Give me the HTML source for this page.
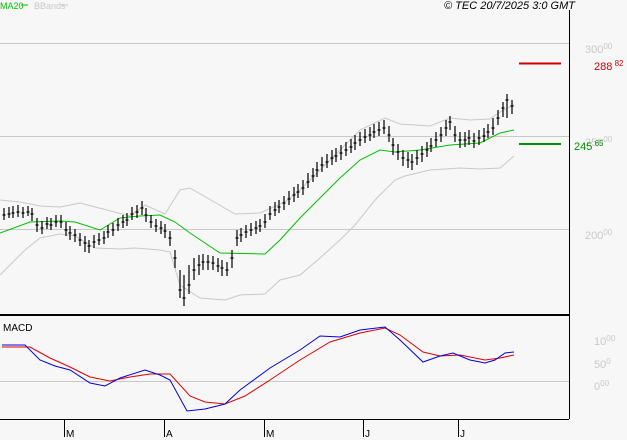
<!DOCTYPE html>
<html><head><meta charset="utf-8"><style>
html,body{margin:0;padding:0;background:#f7f7f7;}
svg{display:block;font-family:"Liberation Sans",sans-serif;}
</style></head><body>
<svg width="627" height="440" viewBox="0 0 627 440" xmlns="http://www.w3.org/2000/svg">
<rect width="627" height="440" fill="#f7f7f7"/>
<text x="0" y="9" font-size="9" fill="#00c000">MA20</text>
<line x1="21" y1="5" x2="28" y2="5" stroke="#00c000"/>
<text x="34" y="9" font-size="9" fill="#c8c8c8">BBands</text>
<line x1="61" y1="5" x2="68" y2="5" stroke="#c8c8c8"/>
<text x="575" y="9" font-size="11" font-style="italic" text-anchor="end" fill="#000">© TEC 20/7/2025 3:0 GMT</text>
<line x1="0" y1="43.5" x2="569" y2="43.5" stroke="#c8c8c8"/>
<line x1="0" y1="136.5" x2="569" y2="136.5" stroke="#c8c8c8"/>
<line x1="0" y1="229.5" x2="569" y2="229.5" stroke="#c8c8c8"/>
<line x1="0" y1="381.5" x2="569" y2="381.5" stroke="#c8c8c8"/>
<line x1="569.5" y1="10" x2="569.5" y2="419" stroke="#000"/>
<line x1="0" y1="315" x2="569" y2="315" stroke="#000" stroke-width="2"/>
<line x1="0" y1="419.5" x2="569" y2="419.5" stroke="#000"/>
<g font-size="11" fill="#c8c8c8">
<text x="585" y="53">300<tspan font-size="8" dy="-4">00</tspan></text>
<text x="585" y="146">250<tspan font-size="8" dy="-4">00</tspan></text>
<text x="585" y="239">200<tspan font-size="8" dy="-4">00</tspan></text>
<text x="594" y="345">10<tspan font-size="8" dy="-4">00</tspan></text>
<text x="594" y="368">50<tspan font-size="8" dy="-4">0</tspan></text>
<text x="594" y="390">0<tspan font-size="8" dy="-4">00</tspan></text>
</g>
<line x1="519" y1="63.5" x2="561" y2="63.5" stroke="#d00000" stroke-width="2"/>
<text x="594" y="70" font-size="11" fill="#d00000">288<tspan font-size="8" dy="-4"> 82</tspan></text>
<line x1="519" y1="144" x2="561" y2="144" stroke="#009000" stroke-width="2"/>
<text x="574" y="150" font-size="11" fill="#009000">245<tspan font-size="8" dy="-4"> 65</tspan></text>
<text x="3" y="331" font-size="10" fill="#000">MACD</text>
<g stroke="#000">
<line x1="64.5" y1="419" x2="64.5" y2="437"/><line x1="164.5" y1="419" x2="164.5" y2="437"/>
<line x1="264.5" y1="419" x2="264.5" y2="437"/><line x1="363.5" y1="419" x2="363.5" y2="437"/>
<line x1="458.5" y1="419" x2="458.5" y2="437"/>
</g>
<g font-size="10" fill="#000">
<text x="66" y="437">M</text><text x="166" y="437">A</text><text x="266" y="437">M</text><text x="365" y="437">J</text><text x="460" y="437">J</text>
</g>
<g fill="none" stroke-width="1">
<polyline stroke="#c8c8c8" points="0,200 20,202 40,206 60,207 80,203 95,207 130,216 145,205 165,214 180,190 190,188 235,214 260,213 285,202 300,190 330,160 360,130 385,118 400,124 430,126 450,118 470,120 490,119 500,112 514,105"/>
<polyline stroke="#c8c8c8" points="0,275 25,250 40,238 60,234 75,236 95,248 120,249 135,248 160,250 170,252 180,285 200,298 225,300 240,295 265,294 280,280 300,275 320,258 340,240 355,225 375,200 395,180 405,176 430,170 460,168 480,169 500,168 514,156"/>
<polyline stroke="#00c000" points="0,233 30,222 60,221 75,222 100,230 120,218 140,216 160,215 175,222 190,233 220,253 265,254 280,240 300,218 320,198 340,178 360,160 380,150 395,152 420,150 450,145 480,143 500,133 514,130"/>
<polyline stroke="#e00000" points="2,347 30,347 50,358 70,367 90,377 110,381 130,377 150,374 170,374 190,396 205,402 225,404 245,396 270,380 300,360 330,342 360,333 385,328 400,335 423,352 440,356 460,355 485,360 500,358 514,355"/>
<polyline stroke="#0000e0" points="2,345 25,345 40,360 55,366 70,370 90,383 105,386 120,378 145,370 160,375 170,380 187,411 205,409 225,404 240,390 270,368 300,350 320,336 340,337 360,330 385,327 400,340 423,362 440,356 453,353 470,360 485,363 495,360 505,353 514,352"/>
</g>
<g transform="translate(0,0)">
<path stroke="#000" stroke-width="1.2" fill="none" transform="translate(0.5,0)" d="
M3.5,208V220M2,215H5 M8.5,207V218M7,214H10 M12.5,206V218M11,213H14 M17.5,205V217M16,212H19 M22.5,207V218M21,213H24 M27.5,206V216M26,212H29 M31.5,208V221M30,214H33
M36.5,218V232M35,225H38 M41.5,221V234M40,228H43 M46.5,217V229M45,224H48 M50.5,218V230M49,225H52 M55.5,215V227M54,222H57 M60.5,215V228M59,222H62 M65.5,222V236M64,230H67
M69.5,226V240M68,233H71 M74.5,229V242M73,235H76 M79.5,233V246M78,240H81 M84.5,236V252M83,243H86 M88.5,240V253M87,246H90 M93.5,235V248M92,242H95 M98.5,233V245M97,240H100
M103.5,231V244M102,238H105 M107.5,225V238M106,232H109 M112.5,223V236M111,230H114 M117.5,218V231M116,225H119 M122.5,215V228M121,222H124 M126.5,213V226M125,220H128 M131.5,207V220M130,214H133
M136.5,205V218M135,212H138 M141.5,201V215M140,208H143 M145.5,208V222M144,215H147 M150.5,215V228M149,222H152 M155.5,219V232M154,226H157 M160.5,221V234M159,228H162 M164.5,224V238M163,231H166
M169.5,231V246M168,238H171 M174.5,250V268M173,258H176 M179.5,270V298M178,290H181 M183.5,275V306M182,298H185 M188.5,265V294M187,285H190 M193.5,258V280M192,270H195 M198.5,255V275M197,265H200
M202.5,254V270M201,262H204 M207.5,255V270M206,262H209 M212.5,256V270M211,263H214 M217.5,258V272M216,266H219 M221.5,260V276M220,268H223 M226.5,262V276M225,270H228 M231.5,250V268M230,258H233
M236.5,230V246M235,238H238 M240.5,228V242M239,235H242 M245.5,225V238M244,232H247 M250.5,223V236M249,230H252 M255.5,221V234M254,228H257 M259.5,219V232M258,226H261 M264.5,214V228M263,222H266
M269.5,206V220M268,214H271 M274.5,202V216M273,210H276 M278.5,200V213M277,207H280 M283.5,196V210M282,203H285 M288.5,191V205M287,199H290 M293.5,187V202M292,195H295 M297.5,184V198M296,192H299
M302.5,180V195M301,188H304 M307.5,173V188M306,182H309 M312.5,168V182M311,176H314 M316.5,162V177M315,170H318 M321.5,157V172M320,165H323 M326.5,154V168M325,162H328 M331.5,150V165M330,158H333
M335.5,148V162M334,156H337 M340.5,145V160M339,153H342 M345.5,142V156M344,150H347 M350.5,139V153M349,147H352 M354.5,135V150M353,143H356 M359.5,132V146M358,140H361 M364.5,129V143M363,137H366
M369.5,127V141M368,135H371 M373.5,124V138M372,132H375 M378.5,122V136M377,130H380 M383.5,120V134M382,128H385 M388.5,126V142M387,135H390 M392.5,138V155M391,145H394 M397.5,144V160M396,152H399
M402.5,150V166M401,158H404 M407.5,152V168M406,160H409 M411.5,154V170M410,162H413 M416.5,150V165M415,158H418 M421.5,146V162M420,154H423 M426.5,142V157M425,150H428 M430.5,138V152M429,146H432
M435.5,132V147M434,140H437 M440.5,127V142M439,135H442 M445.5,120V136M444,128H447 M449.5,116V130M448,122H451 M454.5,126V142M453,135H456 M459.5,132V148M458,140H461 M464.5,132V147M463,140H466
M468.5,130V145M467,138H470 M473.5,133V148M472,141H475 M478.5,130V145M477,138H480 M483.5,128V142M482,136H485 M487.5,124V138M486,132H489 M492.5,118V135M491,128H494 M497.5,110V125M496,118H499
M502.5,102V117M501,108H504 M506.5,94V118M505,100H508 M511.5,100V114M510,106H513"/>
</g>
</svg>
</body></html>
